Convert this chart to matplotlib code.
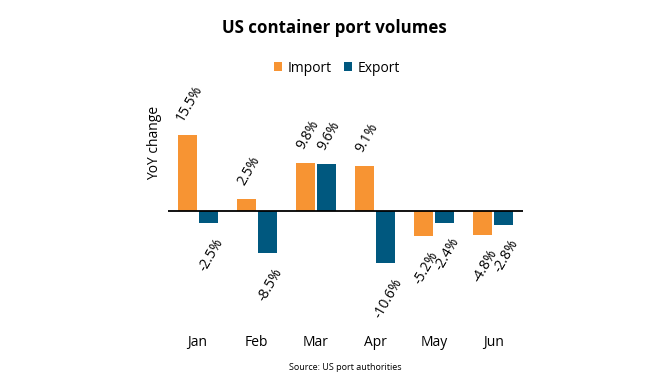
import numpy as np
import matplotlib
matplotlib.use('Agg')
import matplotlib.pyplot as plt

# Chart data
months = ['Jan', 'Feb', 'Mar', 'Apr', 'May', 'Jun']
imports = [15.5, 2.5, 9.8, 9.1, -5.2, -4.8]
exports = [-2.5, -8.5, 9.6, -10.6, -2.4, -2.8]
series_names = ['Import', 'Export']

ORANGE = '#F79433'
BLUE = '#00587F'

plt.rcParams['font.family'] = ['Open Sans', 'DejaVu Sans']

W, H = 670, 380
fig = plt.figure(figsize=(W / 100, H / 100), dpi=100)

# axes placed in pixel terms: zero line at y=211, x from 168 to 523
y_top, y_bot = 20.0, -20.0
px_per = 4.9
top_px = 211 - y_top * px_per
bot_px = 211 - y_bot * px_per
ax = fig.add_axes([168 / W, 1 - bot_px / H, (523 - 168) / W, (bot_px - top_px) / H])
ax.set_xlim(-0.5, 5.5)
ax.set_ylim(y_bot, y_top)
ax.axis('off')

x = np.arange(len(months))
width = 0.32
off = 0.178
ax.bar(x - off, imports, width, color=ORANGE, label=series_names[0], zorder=2)
ax.bar(x + off, exports, width, color=BLUE, label=series_names[1], zorder=2)
ax.axhline(0, color='black', lw=1.3, zorder=3)

# rotated value labels
for xs, vals in ((x - off, imports), (x + off, exports)):
    for xi, v in zip(xs, vals):
        if v >= 0:
            ax.annotate(f'{v:.1f}%', (xi, v), xytext=(2, 8), textcoords='offset points',
                        rotation=60, ha='center', va='bottom', fontsize=10)
        else:
            ax.annotate(f'{v:.1f}%', (xi, v), xytext=(2, -9), textcoords='offset points',
                        rotation=60, ha='center', va='top', fontsize=10)

# month labels sit low, below the plot
for xi, m in zip(x, months):
    ax.text(xi, -26.8, m, ha='center', va='center', fontsize=10, clip_on=False)

fig.text(155 / W, 1 - 143 / H, 'YoY change', rotation=90, ha='center', va='center',
         fontsize=10)
fig.text(334 / W, 1 - 28 / H, 'US container port volumes', ha='center', va='center',
         fontsize=12.2, fontweight='bold')
fig.text(345 / W, 1 - 367 / H, 'Source: US port authorities', ha='center', va='center',
         fontsize=6.5)

fig.legend(loc='center', bbox_to_anchor=(337 / W, 1 - 68 / H), ncol=2, frameon=False,
           fontsize=10, handlelength=0.6, handleheight=0.6, handletextpad=0.4,
           columnspacing=0.9)

fig.savefig('out.png', dpi=100)
